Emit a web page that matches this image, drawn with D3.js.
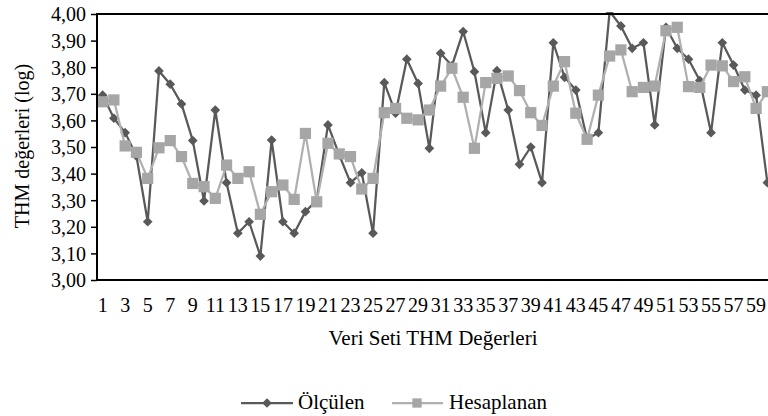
<!DOCTYPE html>
<html><head><meta charset="utf-8">
<script src="https://cdn.jsdelivr.net/npm/d3@7"></script>
<style>body{margin:0;background:#fff}svg{display:block}svg text{font-family:'Liberation Serif','Times New Roman',serif;fill:#000}</style>
</head><body>
<svg id="c" width="768" height="416"></svg>
<script>
const categories = d3.range(1, 61);
const olculen = [3.695,3.608,3.554,3.466,3.219,3.786,3.736,3.662,3.524,3.297,
3.639,3.366,3.176,3.219,3.090,3.526,3.219,3.176,3.257,3.300,
3.583,3.470,3.366,3.403,3.176,3.742,3.627,3.830,3.739,3.495,
3.852,3.805,3.934,3.783,3.554,3.787,3.639,3.435,3.500,3.366,
3.892,3.762,3.714,3.529,3.554,4.010,3.955,3.871,3.892,3.583,
3.950,3.871,3.830,3.750,3.554,3.892,3.808,3.714,3.695,3.366];
const hesaplanan = [3.670,3.677,3.504,3.480,3.382,3.497,3.524,3.464,3.363,3.351,
3.307,3.432,3.382,3.407,3.247,3.332,3.357,3.303,3.551,3.294,
3.514,3.474,3.464,3.342,3.382,3.629,3.645,3.608,3.602,3.639,
3.729,3.796,3.687,3.495,3.742,3.758,3.767,3.712,3.629,3.581,
3.729,3.821,3.627,3.529,3.695,3.842,3.865,3.708,3.724,3.729,
3.937,3.950,3.727,3.724,3.808,3.805,3.746,3.764,3.645,3.708];
const yTicks = [3.0,3.1,3.2,3.3,3.4,3.5,3.6,3.7,3.8,3.9,4.0];
const xLabels = categories.filter(d => d % 2 === 1);

const svg = d3.select("#c");
const L = 97, T = 14, B = 280, R = 773;
const x = d3.scaleBand().domain(categories).range([L, R]);
const y = d3.scaleLinear().domain([3, 4]).range([B, T]);
const FS = "20px";
const fmt = d => d.toFixed(2).replace(".", ",");

svg.append("defs").append("clipPath").attr("id","pc")
  .append("rect").attr("x",L).attr("y",T-2).attr("width",R-L).attr("height",B-T+2);

// y axis
const yAxis = d3.axisLeft(y).tickValues(yTicks).tickFormat(fmt).tickSize(6).tickPadding(5);
const ga = svg.append("g").attr("transform",`translate(${L},0)`).call(yAxis);
ga.select(".domain").remove();
ga.selectAll(".tick line").attr("stroke","#000").attr("stroke-width",1.5);
ga.selectAll("text").style("font-size",FS).attr("dy","0.34em");

// x axis labels
const xAxis = d3.axisBottom(x).tickValues(xLabels).tickSize(0).tickPadding(18);
const gx = svg.append("g").attr("transform",`translate(0,${B})`).call(xAxis);
gx.select(".domain").remove();
gx.selectAll("text").style("font-size",FS);

const cx = d => x(d) + x.bandwidth()/2;
const plot = svg.append("g").attr("clip-path","url(#pc)");

function series(vals, color, lineColor, sym, size){
  const pts = categories.map((c,i)=>[cx(c), y(vals[i])]);
  plot.append("path").attr("d", d3.line()(pts)).attr("fill","none")
    .attr("stroke", lineColor).attr("stroke-width",2.25).attr("stroke-linejoin","round");
  plot.selectAll(null).data(pts).join("path")
    .attr("transform", p=>`translate(${p[0]},${p[1]})`)
    .attr("d", d3.symbol(sym, size)()).attr("fill", color);
}
series(olculen, "#595959", "#595959", d3.symbolDiamond2, 60);
series(hesaplanan, "#a6a6a6", "#b0b0b0", d3.symbolSquare2, 160);

// borders
svg.append("line").attr("x1",L).attr("x2",L).attr("y1",T).attr("y2",B).attr("stroke","#000").attr("stroke-width",2);
svg.append("line").attr("x1",L-1).attr("x2",768).attr("y1",B).attr("y2",B).attr("stroke","#000").attr("stroke-width",2);
svg.append("line").attr("x1",L-1).attr("x2",768).attr("y1",T).attr("y2",T).attr("stroke","#000").attr("stroke-width",2);

// axis titles
svg.append("text").attr("x", 433).attr("y", 345).attr("text-anchor","middle")
  .style("font-size","21px").text("Veri Seti THM Değerleri");
svg.append("text").attr("transform","translate(29,146) rotate(-90)").attr("text-anchor","middle")
  .style("font-size",FS).text("THM değerleri (log)");

// legend
const lg = svg.append("g");
lg.append("line").attr("x1",241).attr("x2",293).attr("y1",403).attr("y2",403).attr("stroke","#595959").attr("stroke-width",2.25);
lg.append("path").attr("transform","translate(267,403)").attr("d",d3.symbol(d3.symbolDiamond2,60)()).attr("fill","#595959");
lg.append("text").attr("x",298).attr("y",409).style("font-size","21px").text("Ölçülen");
lg.append("line").attr("x1",392).attr("x2",443).attr("y1",403).attr("y2",403).attr("stroke","#b0b0b0").attr("stroke-width",2.25);
lg.append("path").attr("transform","translate(417,403)").attr("d",d3.symbol(d3.symbolSquare2,110)()).attr("fill","#a6a6a6");
lg.append("text").attr("x",449).attr("y",409).style("font-size","21px").text("Hesaplanan");
</script>
</body></html>
